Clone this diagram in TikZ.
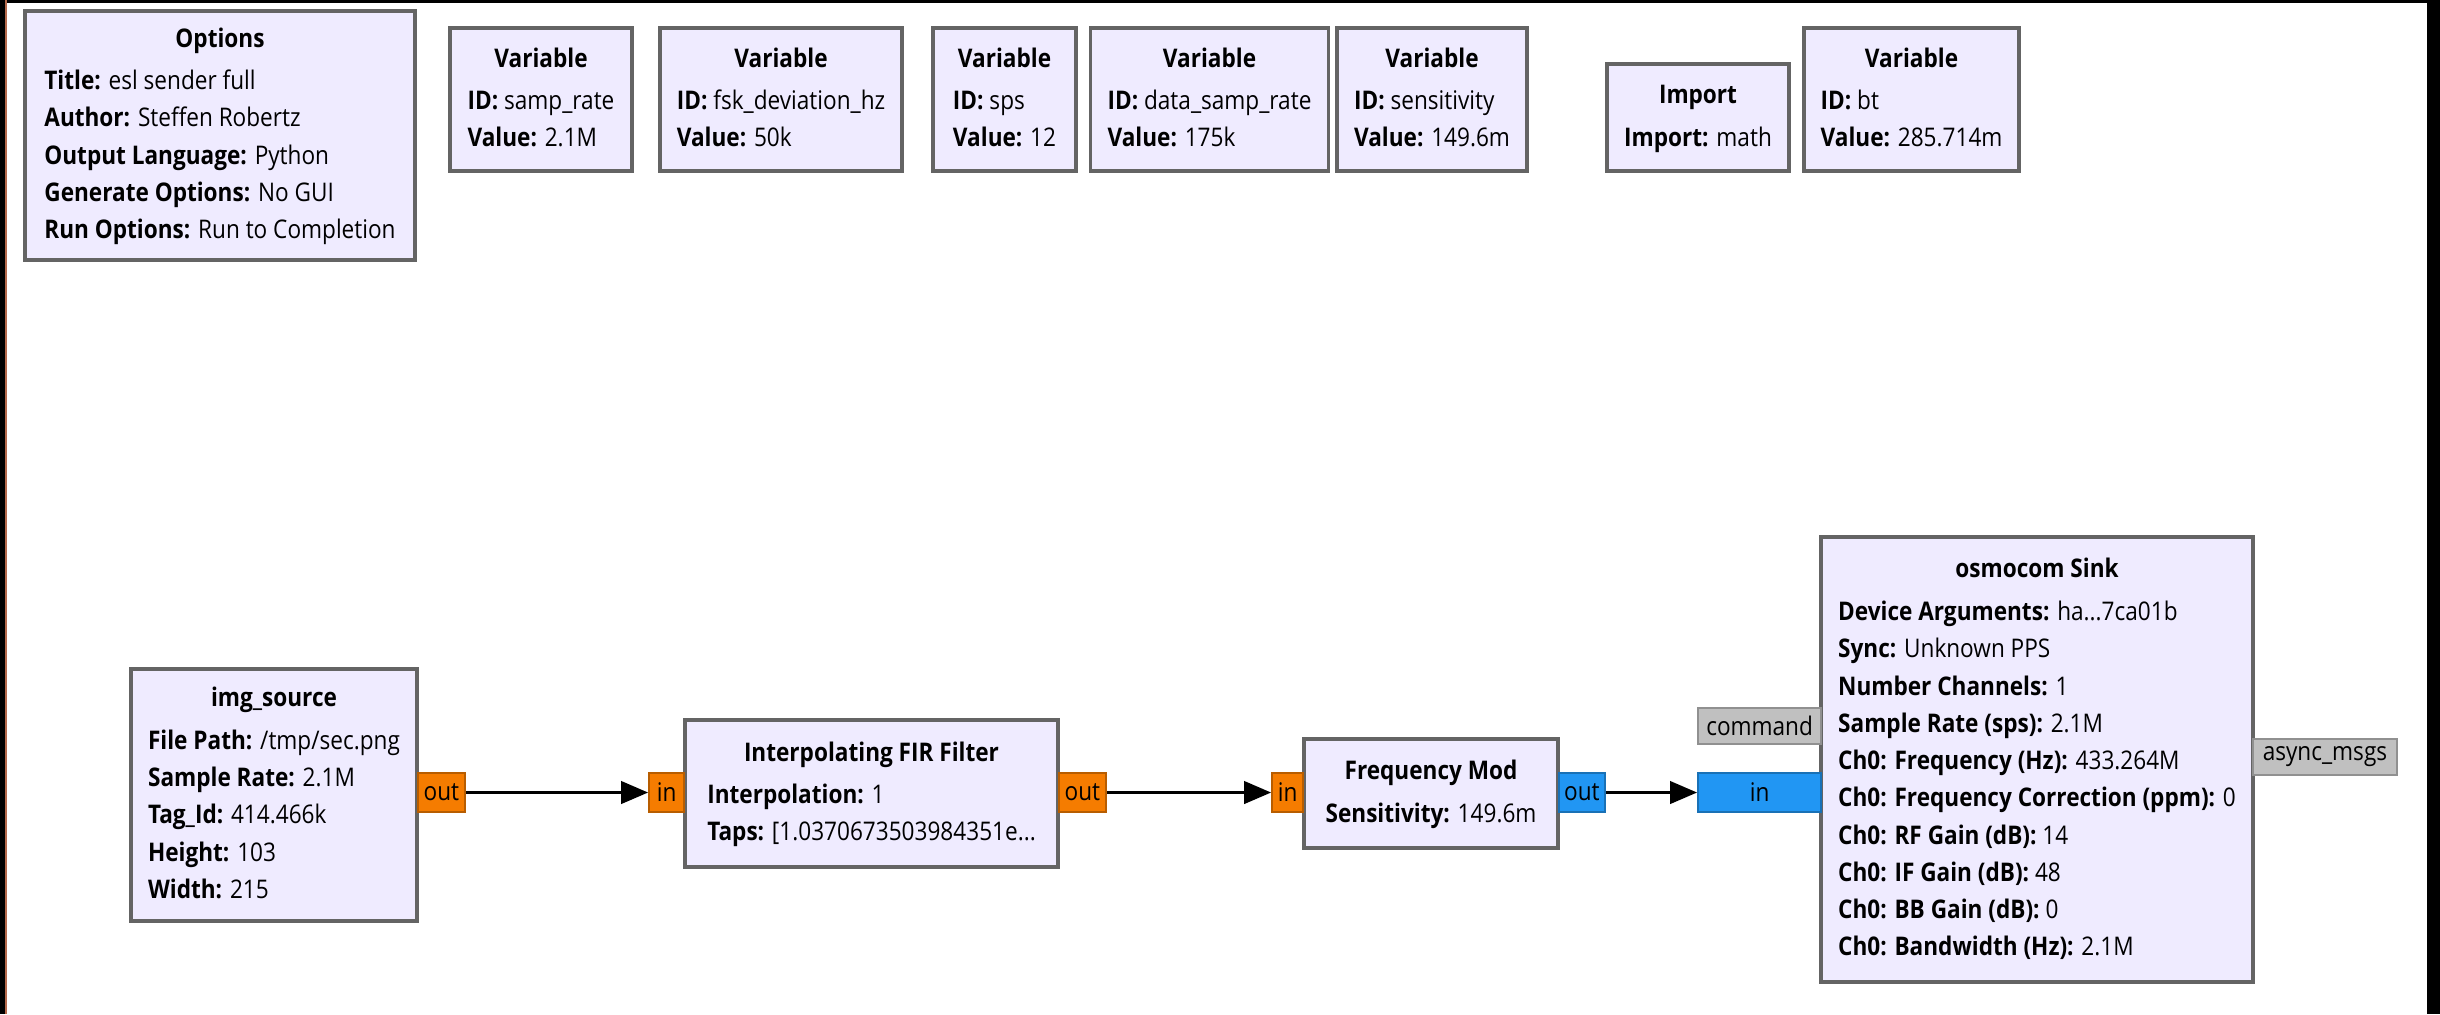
\documentclass[tikz,border=0pt]{standalone}
\usepackage{fontspec}
\setmainfont{Open Sans}[FakeStretch=0.88]
\usetikzlibrary{arrows.meta}
\definecolor{blkfill}{HTML}{EFEBFF}
\definecolor{blkline}{HTML}{646464}
\definecolor{fltport}{HTML}{F57C00}
\definecolor{cpxport}{HTML}{2196F3}
\definecolor{msgport}{HTML}{C0C0C0}
\definecolor{edgeline}{HTML}{B4694B}
\newcommand{\prm}[2]{\textbf{#1:} #2}
\newcommand{\grcblk}[2]{\begin{tabular}{@{}l@{}}\multicolumn{1}{@{}c@{}}{\bfseries #1}\\[1.5pt] #2\end{tabular}}
\tikzset{
  blk/.style={draw=blkline, fill=blkfill, line width=1.1pt, inner xsep=0.17cm, inner ysep=0pt},
  port/.style={draw=#1!75!black, fill=#1, line width=0.5pt, inner sep=1pt, minimum height=0.39cm},
  flow/.style={line width=1.1pt, -{Triangle[length=0.27cm,width=0.22cm]}}
}

\begin{document}
\begin{tikzpicture}[x=0.01cm, y=-0.01cm, every node/.style={font=\fontsize{7.3}{10.6}\selectfont}]
\useasboundingbox (0,0) rectangle (2440,1014);
\fill[black] (0,0) rectangle (2440,3);
\fill[black] (0,0) rectangle (5,1014);
\draw[edgeline, line width=0.6pt] (6,0) -- (6,1014);
\fill[black] (2427,0) rectangle (2440,1014);

\node[blk, minimum width=3.9cm, minimum height=2.49cm] (opts) at (220,135.5) {\grcblk{Options}{\prm{Title}{esl sender full}\\ \prm{Author}{Steffen Robertz}\\ \prm{Output Language}{Python}\\ \prm{Generate Options}{No GUI}\\ \prm{Run Options}{Run to Completion}}};
\node[blk, minimum width=1.82cm, minimum height=1.43cm] (samprate) at (541,99.5) {\grcblk{Variable}{\prm{ID}{samp\_rate}\\ \prm{Value}{2.1M}}};
\node[blk, minimum width=2.34cm, minimum height=1.43cm] (fskdev) at (781,99.5) {\grcblk{Variable}{\prm{ID}{fsk\_deviation\_hz}\\ \prm{Value}{50k}}};
\node[blk, minimum width=1.43cm, minimum height=1.43cm] (sps) at (1004.5,99.5) {\grcblk{Variable}{\prm{ID}{sps}\\ \prm{Value}{12}}};
\node[blk, minimum width=2.35cm, minimum height=1.43cm] (datarate) at (1209.5,99.5) {\grcblk{Variable}{\prm{ID}{data\_samp\_rate}\\ \prm{Value}{175k}}};
\node[blk, minimum width=1.78cm, minimum height=1.43cm] (sens) at (1432,99.5) {\grcblk{Variable}{\prm{ID}{sensitivity}\\ \prm{Value}{149.6m}}};
\node[blk, minimum width=1.82cm, minimum height=1.07cm] (imp) at (1698,117.5) {\grcblk{Import}{\prm{Import}{math}}};
\node[blk, minimum width=2.13cm, minimum height=1.43cm] (bt) at (1911.5,99.5) {\grcblk{Variable}{\prm{ID}{bt}\\ \prm{Value}{285.714m}}};

\node[blk, minimum width=2.86cm, minimum height=2.52cm] (src) at (274,795) {\grcblk{img\_source}{\prm{File Path}{/tmp/sec.png}\\ \prm{Sample Rate}{2.1M}\\ \prm{Tag\_Id}{414.466k}\\ \prm{Height}{103}\\ \prm{Width}{215}}};
\node[blk, minimum width=3.73cm, minimum height=1.47cm] (fir) at (871.5,793.5) {\grcblk{Interpolating FIR Filter}{\prm{Interpolation}{1}\\ \prm{Taps}{[1.0370673503984351e...}}};
\node[blk, minimum width=2.54cm, minimum height=1.09cm] (fmod) at (1431,793.5) {\grcblk{Frequency Mod}{\prm{Sensitivity}{149.6m}}};
\node[blk, minimum width=4.30cm, minimum height=4.45cm] (sink) at (2037,759.5) {\grcblk{osmocom Sink}{\prm{Device Arguments}{ha...7ca01b}\\ \prm{Sync}{Unknown PPS}\\ \prm{Number Channels}{1}\\ \prm{Sample Rate (sps)}{2.1M}\\ \prm{Ch0: Frequency (Hz)}{433.264M}\\ \prm{Ch0: Frequency Correction (ppm)}{0}\\ \prm{Ch0: RF Gain (dB)}{14}\\ \prm{Ch0: IF Gain (dB)}{48}\\ \prm{Ch0: BB Gain (dB)}{0}\\ \prm{Ch0: Bandwidth (Hz)}{2.1M}}};

\node[port=fltport, anchor=west, minimum width=0.47cm] (src-out) at (417,792.5) {out};
\node[port=fltport, anchor=east, minimum width=0.35cm] (fir-in) at (685,792.5) {in};
\node[port=fltport, anchor=west, minimum width=0.47cm] (fir-out) at (1058,792.5) {out};
\node[port=fltport, anchor=east, minimum width=0.31cm] (fmod-in) at (1304,792.5) {in};
\node[port=cpxport, anchor=west, minimum width=0.46cm] (fmod-out) at (1558,792.5) {out};
\node[port=cpxport, anchor=east, minimum width=1.23cm] (sink-in) at (1822,792.5) {in};
\node[port=msgport, anchor=east, minimum width=1.23cm, minimum height=0.36cm] (sink-cmd) at (1822,726) {command};
\node[port=msgport, anchor=west, minimum width=1.44cm, minimum height=0.36cm] (sink-msg) at (2252,757) {async\_msgs};

\draw[flow] (src-out) -- (fir-in);
\draw[flow] (fir-out) -- (fmod-in);
\draw[flow] (fmod-out) -- (sink-in);
\end{tikzpicture}
\end{document}
